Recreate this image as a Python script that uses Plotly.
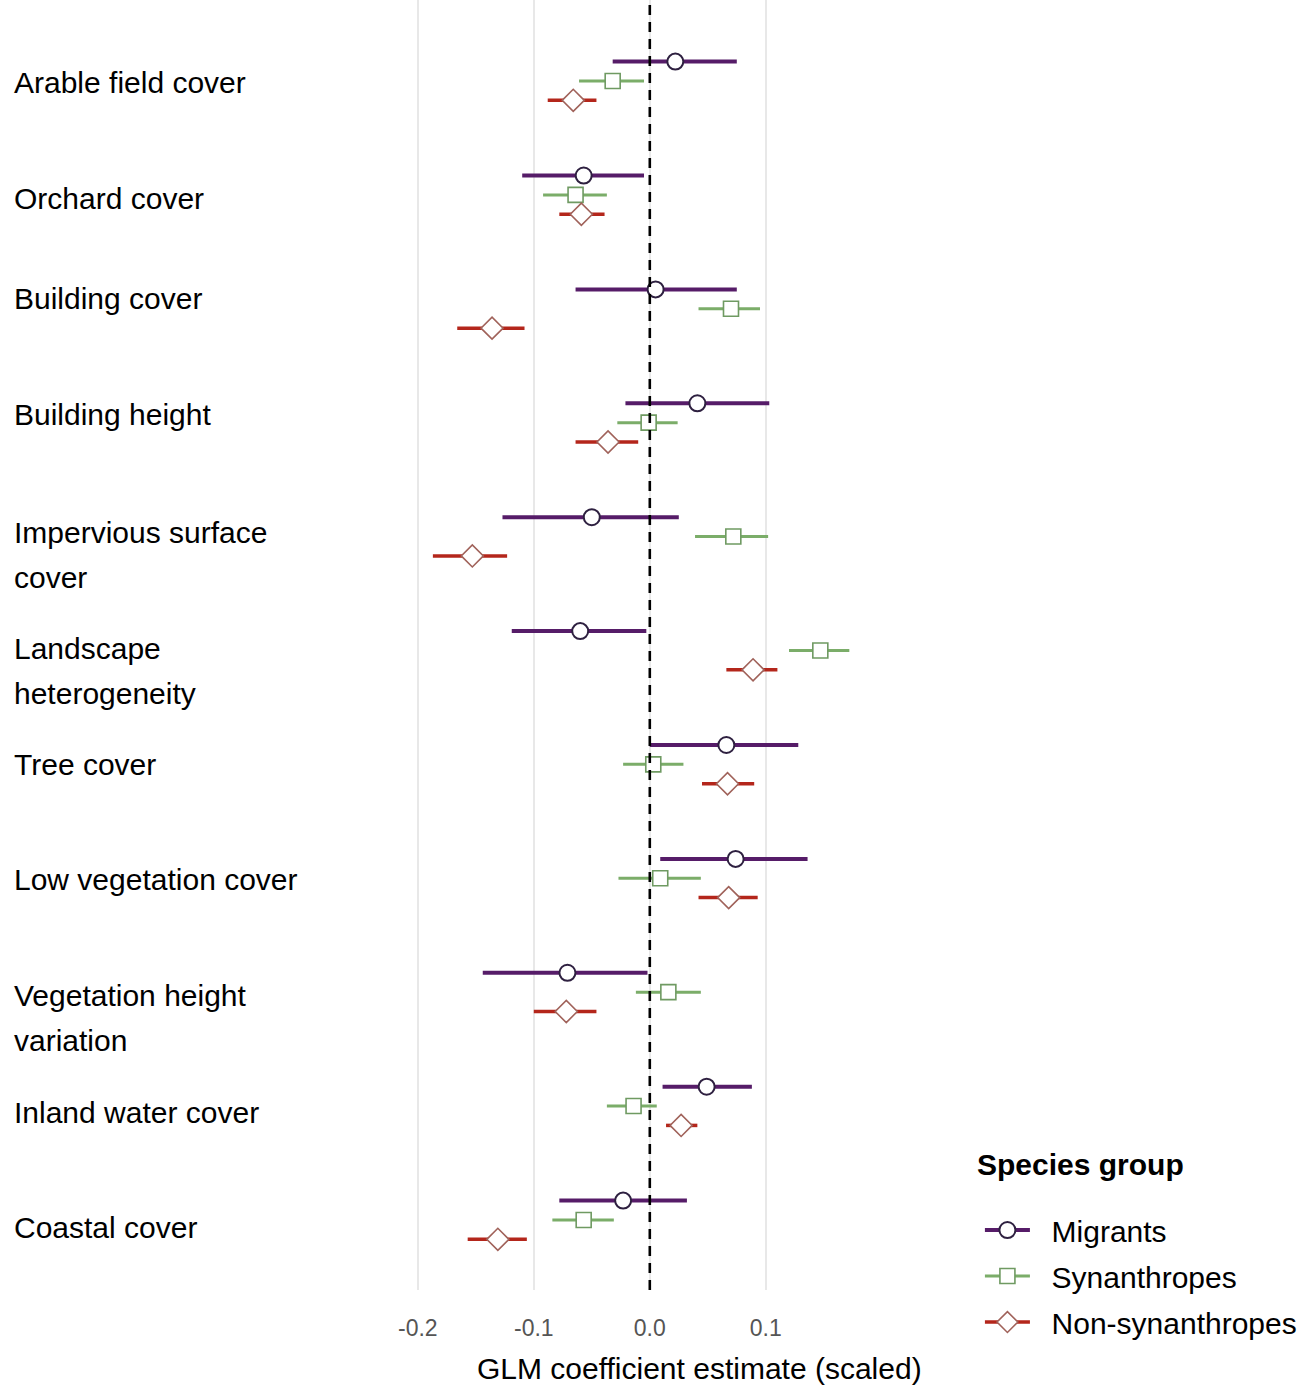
import plotly.graph_objects as go

# Predictor variables, top to bottom
predictors = [
    "Arable field cover",
    "Orchard cover",
    "Building cover",
    "Building height",
    "Impervious surface\ncover",
    "Landscape\nheterogeneity",
    "Tree cover",
    "Low vegetation cover",
    "Vegetation height\nvariation",
    "Inland water cover",
    "Coastal cover",
]

groups = ["Migrants", "Synanthropes", "Non-synanthropes"]

# GLM coefficient estimates (scaled) with lower / upper interval bounds
migrants_est = [0.022, -0.057, 0.005, 0.041, -0.050, -0.060, 0.066, 0.074, -0.071, 0.049, -0.023]
migrants_lo = [-0.032, -0.110, -0.064, -0.021, -0.127, -0.119, 0.000, 0.009, -0.144, 0.011, -0.078]
migrants_hi = [0.075, -0.005, 0.075, 0.103, 0.025, -0.003, 0.128, 0.136, -0.002, 0.088, 0.032]

synanth_est = [-0.032, -0.064, 0.070, -0.001, 0.072, 0.147, 0.003, 0.009, 0.016, -0.014, -0.057]
synanth_lo = [-0.061, -0.092, 0.042, -0.028, 0.039, 0.120, -0.023, -0.027, -0.012, -0.037, -0.084]
synanth_hi = [-0.005, -0.037, 0.095, 0.024, 0.102, 0.172, 0.029, 0.044, 0.044, 0.006, -0.031]

nonsyn_est = [-0.066, -0.059, -0.136, -0.036, -0.153, 0.089, 0.067, 0.068, -0.072, 0.027, -0.131]
nonsyn_lo = [-0.088, -0.078, -0.166, -0.064, -0.187, 0.066, 0.045, 0.042, -0.100, 0.014, -0.157]
nonsyn_hi = [-0.046, -0.039, -0.108, -0.010, -0.123, 0.110, 0.090, 0.093, -0.046, 0.041, -0.106]

x_ticks = [-0.2, -0.1, 0.0, 0.1]
x_tick_text = ["-0.2", "-0.1", "0.0", "0.1"]

# ---- styling ----
FONT = "Liberation Sans, Arial, sans-serif"
styles = {
    "Migrants": dict(bar="#561c68", edge="#2e2040", symbol="circle", size=16, thick=4, lw=2.0, dy=-0.17),
    "Synanthropes": dict(bar="#7bad69", edge="#6f9a62", symbol="square", size=15, thick=3, lw=1.6, dy=0.0),
    "Non-synanthropes": dict(bar="#b4261b", edge="#a0625a", symbol="diamond", size=17, thick=3.5, lw=1.6, dy=0.17),
}
series = {
    "Migrants": (migrants_est, migrants_lo, migrants_hi),
    "Synanthropes": (synanth_est, synanth_lo, synanth_hi),
    "Non-synanthropes": (nonsyn_est, nonsyn_lo, nonsyn_hi),
}
# vertical nudges of predictor labels (in category units) and line spacing in px
label_nudge = [0.01, 0.03, -0.09, -0.07, 0.16, 0.18, 0.0, 0.015, 0.23, 0.06, 0.07]
LINE_GAP = 45

fig = go.Figure()

for g in groups:
    est, lo, hi = series[g]
    st = styles[g]
    ys = [i + st["dy"] for i in range(len(predictors))]
    fig.add_trace(go.Scatter(
        x=est, y=ys, mode="markers", showlegend=False, hoverinfo="skip",
        marker=dict(symbol=st["symbol"], size=st["size"], color="white",
                    line=dict(color=st["edge"], width=st["lw"])),
        error_x=dict(type="data", symmetric=False,
                     array=[h - e for e, h in zip(est, hi)],
                     arrayminus=[e - l for e, l in zip(est, lo)],
                     color=st["bar"], thickness=st["thick"], width=0),
    ))

# legend entries (line through open marker)
for g in groups:
    st = styles[g]
    fig.add_trace(go.Scatter(
        x=[None], y=[None], mode="lines+markers", name="\u00a0\u00a0" + g,
        legendgroup=g,
        line=dict(color=st["bar"], width=st["thick"]),
        marker=dict(symbol=st["symbol"], size=st["size"], color="white",
                    line=dict(color=st["edge"], width=st["lw"])),
    ))

# reference line at zero
fig.add_vline(x=0, line=dict(color="black", width=2.6, dash="10px,7px"), layer="above")

# predictor labels on the left
for i, (lab, nud) in enumerate(zip(predictors, label_nudge)):
    lines = lab.split("\n")
    n = len(lines)
    for k, line in enumerate(lines):
        fig.add_annotation(
            x=-0.8734, xref="paper", xanchor="left",
            y=i + nud, yref="y", yanchor="middle",
            yshift=-(k - (n - 1) / 2) * LINE_GAP,
            text=line, showarrow=False,
            font=dict(family=FONT, size=30, color="black"),
        )

# x axis title
fig.add_annotation(
    x=0.6288, xref="paper", xanchor="center",
    y=-0.0605, yref="paper", yanchor="middle",
    text="GLM coefficient estimate (scaled)", showarrow=False,
    font=dict(family=FONT, size=30, color="black"),
)

# legend heading
fig.add_annotation(
    x=1.2295, xref="paper", xanchor="left",
    y=0.0969, yref="paper", yanchor="middle",
    text="<b>Species group</b>", showarrow=False,
    font=dict(family=FONT, size=30, color="black"),
)

fig.update_layout(
    width=1306, height=1390,
    margin=dict(l=412, r=436, t=0, b=100, autoexpand=False),
    paper_bgcolor="white", plot_bgcolor="white",
    xaxis=dict(
        range=[-0.205, 0.18983], tickvals=x_ticks, ticktext=x_tick_text,
        showgrid=True, gridcolor="#e8e8e8", gridwidth=1.5, zeroline=False,
        showline=False, ticks="outside", ticklen=17, tickcolor="rgba(0,0,0,0)",
        tickfont=dict(family=FONT, size=23, color="#555555"),
    ),
    yaxis=dict(
        range=[10.615, -0.711], showgrid=False, zeroline=False,
        showticklabels=False, showline=False,
    ),
    legend=dict(
        x=1.24, xanchor="left", y=-0.045, yanchor="bottom",
        font=dict(family=FONT, size=30, color="black"),
        bgcolor="rgba(0,0,0,0)", tracegroupgap=4, itemwidth=45,
    ),
    showlegend=True,
)

fig.write_html("out.html")
